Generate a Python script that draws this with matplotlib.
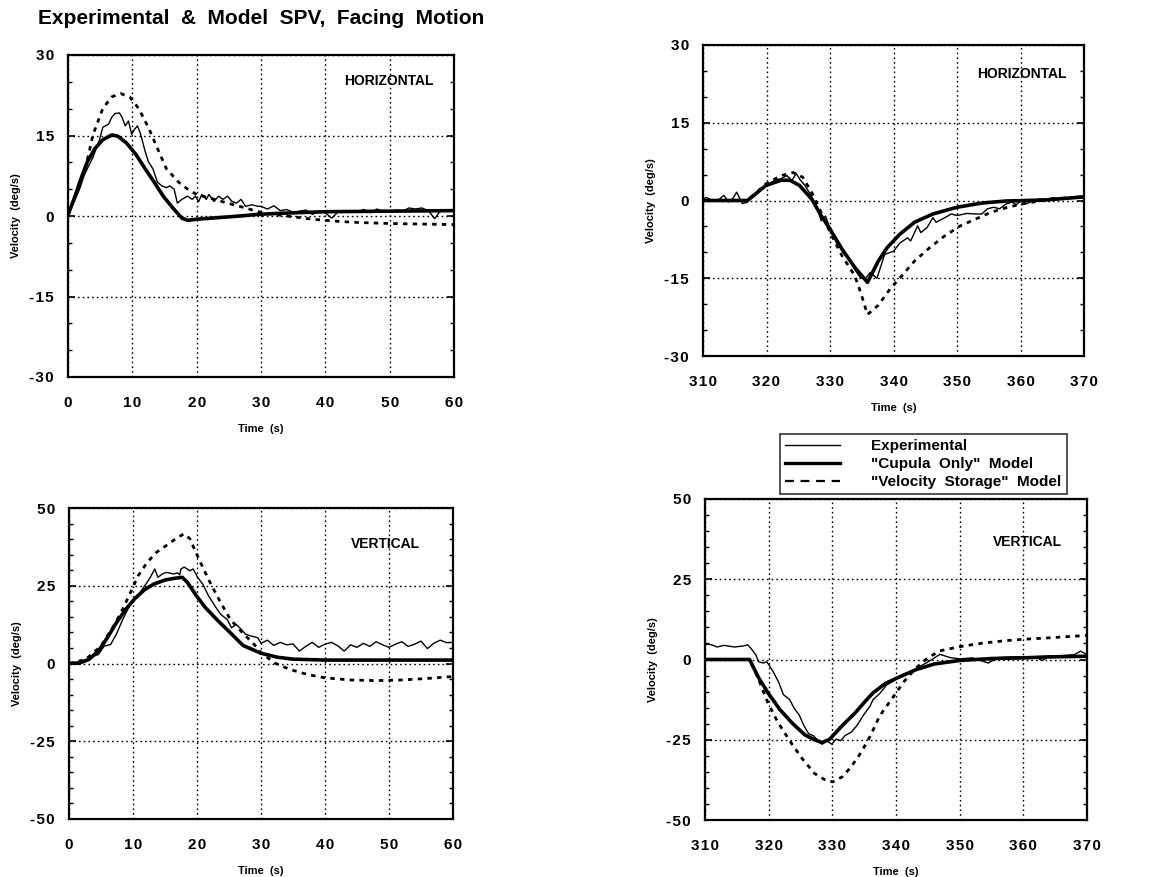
import matplotlib
matplotlib.use("Agg")
import matplotlib.pyplot as plt
from matplotlib.lines import Line2D
from matplotlib.ticker import MultipleLocator, FuncFormatter

plt.rcParams['font.family'] = ['Liberation Sans', 'DejaVu Sans']
plt.rcParams['axes.unicode_minus'] = False

# ---------------- data ----------------
# Top-left: horizontal, onset (0-60 s)
tl_exp_t = [0, 0.85, 1.8, 2.5, 3, 3.9, 4.9, 5.4, 5.8, 6.3, 6.8, 7.3, 8, 8.4, 8.9, 9.4, 9.9, 10.3, 10.8, 11.3,
            12, 12.5, 13.2, 13.9, 14.6, 15.3, 15.8, 16.5, 17, 17.7, 18.6, 19.3, 19.8, 20.3, 20.8, 21.5, 21.9,
            22.7, 23.4, 24.1, 24.8, 25.5, 26.2, 26.9, 27.6, 28.6, 29.5,
            30, 31, 32, 33, 34, 35, 36, 37, 38, 39, 40, 41, 42, 43, 44, 45, 46, 47, 48, 49, 50,
            51, 52, 53, 54, 55, 56, 57, 58, 59, 60]
tl_exp_v = [0.2, 2.4, 5, 7.5, 8.8, 11, 14.2, 16.5, 16.8, 17.1, 18.4, 19.1, 19.2, 18.4, 16.8, 17.7, 15.2, 16.1,
            16.8, 15.2, 12, 10.1, 8.8, 6.3, 5.6, 5.3, 5.6, 5, 2.4, 3.1, 3.7, 3.1, 3.7, 2.7, 4, 3.1, 4, 2.7,
            3.7, 3.1, 3.7, 2.7, 2.4, 3.1, 1.8, 2.1, 1.8,
            1.8, 1.3, 1.9, 1.0, 1.2, 0.7, 0.9, 1.1, 0.3, 0.9, 0.6, -0.4, 0.8, 0.7, 1.0, 0.8, 1.2, 0.6, 1.3,
            0.9, 0.7, 1.1, 0.9, 1.5, 1.3, 1.5, 1.0, -0.5, 1.2, 1.0, 1.2]
tl_cup_t = [0, 1.1, 2, 3, 4.2, 5.4, 6.8, 7.7, 9.1, 10.6, 12, 13.4, 14.8, 16.3, 17.7, 18.6, 20, 23.4, 26.7,
            29.5, 33, 40, 50, 60]
tl_cup_v = [0.2, 3.7, 6.9, 10.1, 12.6, 14.2, 15.1, 14.9, 13.6, 11.4, 8.8, 6.3, 3.7, 1.5, -0.4, -0.8, -0.6,
            -0.3, 0, 0.3, 0.5, 0.8, 0.9, 1.0]
tl_vs_t = [0, 2.75, 3.9, 5.4, 6.8, 8.2, 9.6, 11, 12.5, 13.9, 15.3, 17.2, 18.6, 20, 21.9, 24.8, 27.6, 29.5,
           32, 34, 36, 38, 40, 42, 45, 50, 55, 60]
tl_vs_v = [0.2, 9.1, 15.2, 20, 22.2, 22.8, 22.2, 20, 16.5, 12.6, 8.8, 6.3, 5, 4, 3.4, 2.4, 1.5, 0.8,
           0.3, 0, -0.3, -0.6, -0.8, -1, -1.2, -1.4, -1.5, -1.6]

# Top-right: horizontal, stop (310-370 s)
tr_exp_t = [310, 310.5, 311.5, 312.5, 313.3, 314, 314.7, 315.3, 316.2, 317, 318, 319, 319.9, 321.3, 322.3,
            323.2, 324, 324.7, 325.3, 326, 327, 328, 328.6, 329.3, 330, 331, 332, 333, 334, 334.8, 335.5,
            336.3, 337.4, 338.6, 340, 341, 342.2, 342.7, 343.8, 344.3, 345.3, 346.2, 346.7, 348.1, 349.1,
            350, 351.5, 352.9, 353.9, 354.8, 355.8, 356.7, 357.7, 358.7, 359.3, 360.1, 361, 362, 363, 364,
            365, 366, 367, 368, 369, 370]
tr_exp_v = [0.3, 0.6, 0.0, 0.2, 1.0, -0.3, 0.4, 1.6, -0.6, -0.3, 1.0, 2.0, 2.8, 3.9, 4.2, 4.8, 3.9, 5.2, 4.0,
            3.0, 1.0, -1.5, -3.9, -3.0, -5.5, -8.1, -9.5, -11.3, -13.5, -14.9, -15.2, -13.9, -15.0, -10.4,
            -9.8, -8.2, -7.2, -7.8, -4.9, -6.2, -5.2, -3.3, -4.2, -3.3, -2.6, -2.9, -2.5, -2.6, -2.6, -1.6,
            -1.3, -1.6, -0.7, -0.3, -0.8, -0.1, -0.6, 0.0, 0.3, 0.2, 0.5, 0.4, 0.6, 0.5, 0.8, 0.7]
tr_cup_t = [310, 317, 319.9, 322.3, 323.7, 325.2, 327.1, 328.6, 330, 331.9, 333.9, 335.9, 337.6, 339, 341,
            343.3, 346.2, 350, 353.9, 357.7, 363.9, 370]
tr_cup_v = [0, 0, 2.9, 3.9, 3.9, 2.9, 0.3, -2.9, -5.5, -9.4, -12.9, -15.8, -11.7, -9.1, -6.5, -4.2, -2.6,
            -1.3, -0.5, -0.1, 0.1, 0.7]
tr_vs_t = [310, 317, 319.9, 322.3, 324.2, 325.7, 327.1, 328.6, 330, 331.9, 333.9, 334.9, 335.9, 337.6,
           339.5, 341.4, 343.3, 345.7, 348.1, 350.5, 352.9, 355.3, 357.7, 360.1, 362.5, 365, 370]
tr_vs_v = [0, 0, 3.2, 4.8, 5.4, 4.5, 1.6, -2.3, -6.1, -10.7, -14.5, -18, -22, -20.2, -17, -14.4, -11.7,
           -9.1, -6.8, -4.9, -3.6, -2.3, -1.4, -0.7, -0.2, 0.3, 0.7]

# Bottom-left: vertical, onset (0-60 s)
bl_exp_t = [0, 1.4, 2.6, 3.6, 4.6, 5.5, 6.5, 7.4, 8.4, 9.4, 10.3, 11.3, 12.2, 12.7, 13.4, 13.9, 14.6, 15.3,
            16.3, 17, 17.3, 17.5, 18, 18.9, 19.4, 20.1, 20.9, 21.8, 22.8, 23.7, 24.7, 25.4, 26.1, 26.9,
            27.6, 28.5, 29.5,
            30, 31, 32, 33, 34, 35, 36, 37, 38, 39, 40, 41, 42, 43, 44, 45, 46, 47, 48, 49, 50,
            51, 52, 53, 54, 55, 56, 57, 58, 59, 60]
bl_exp_v = [0, -0.3, 0.8, 2.2, 2.9, 5.6, 6.1, 9.4, 14.2, 18.3, 20.7, 23.4, 26.1, 27.7, 30.4, 27.7, 28.8,
            29.3, 28.8, 29.1, 28.5, 30.4, 31, 29.8, 30.4, 27.7, 25.5, 21.8, 18.5, 15.8, 14.2, 11.5, 12.6,
            11, 9.4, 8.8, 8.3,
            6.5, 7.5, 5.8, 6.8, 6.0, 6.3, 4.0, 5.5, 6.8, 5.2, 6.2, 6.8, 5.7, 4.0, 6.0, 5.2, 6.5, 5.5,
            7.0, 6.0, 5.2, 6.2, 7.0, 5.5, 6.2, 7.2, 4.8, 6.5, 7.5, 6.7, 6.8]
bl_cup_t = [0, 1.7, 3.1, 4.6, 6, 7.4, 8.9, 10.3, 11.8, 13.2, 15.1, 16.5, 17.7, 18.5, 19.9, 21.3, 23.3, 25.2,
            27.2, 30, 32.6, 35, 40, 50, 60]
bl_cup_v = [0, 0.2, 1.3, 4, 8.3, 13.1, 17.5, 20.9, 23.7, 25.5, 26.9, 27.4, 27.7, 26.1, 21.8, 18, 13.7, 9.9,
            5.8, 3.3, 2.0, 1.4, 1.1, 1.1, 1.1]
bl_vs_t = [0, 2.6, 5, 7, 8.4, 9.6, 10.8, 12.2, 13.7, 15.6, 17, 18, 18.9, 19.7, 20.9, 22.3, 23.7, 25.2,
           27.1, 29, 30, 32.1, 34.5, 37.4, 40, 44, 48, 52, 56, 60]
bl_vs_v = [0, 1.3, 5.6, 12.1, 17.5, 22.8, 28.2, 32.5, 35.8, 38.5, 40.6, 41.7, 40.1, 36.3, 30.9, 25, 19.6,
           14.2, 9.9, 6.0, 3.5, 0.2, -1.9, -3.6, -4.6, -5.3, -5.5, -5.3, -4.8, -4.2]

# Bottom-right: vertical, stop (310-370 s)
br_exp_t = [310, 310.2, 311, 311.9, 313, 314.6, 316, 316.7, 317.2, 318, 318.4, 319.2, 319.7, 320.6, 321.6,
            322.3, 323.3, 324, 324.8, 325.5, 326.3, 327, 327.8, 328.4, 329.1, 329.9, 330.6, 331.3, 332, 333,
            333.9, 334.9, 335.9, 336.4, 337.5, 338.5, 340, 341.5, 343, 345, 346.9, 348.5, 350, 352, 354.5,
            356, 358, 360, 362, 363, 364, 366, 368, 369, 370]
br_exp_v = [4.4, 4.8, 4.6, 3.9, 4.4, 3.9, 4.2, 4.6, 3.5, 1.4, -0.7, -1.1, -0.7, -3.4, -7.2, -10.9, -12.5,
            -15.2, -17.3, -20.5, -23.2, -23.7, -25.3, -26.4, -25.3, -26.4, -24.8, -25.3, -23.7, -22.6,
            -20.5, -17.3, -14.6, -12.5, -10.5, -8.0, -6.2, -4.5, -3.0, -0.8, 1.6, 0.6, 0.2, 0.5, -1.1, 0.6,
            0.8, 0.9, 0.6, -0.3, 1.0, 1.2, 1.5, 2.6, 1.5]
br_cup_t = [310, 317, 318.4, 319.9, 321.8, 323.8, 325.7, 327.2, 328.4, 329.6, 331.6, 333.5, 335.4, 336.4,
            338.3, 340, 343.1, 346, 350, 355, 360, 363.6, 370]
br_cup_v = [0, 0, -5.6, -10.4, -15.7, -20, -23.5, -25, -25.9, -24.8, -20.5, -16.8, -12.5, -10.4, -7.5,
            -5.9, -3.2, -1.4, -0.3, 0.3, 0.5, 0.8, 1.0]
br_vs_t = [310, 317, 318.4, 319.9, 321.4, 323.3, 325.2, 327.2, 329.1, 330.1, 331.6, 333, 334.5, 336, 337.4,
           339.3, 341.2, 343.1, 345, 346.9, 350, 353.6, 357.4, 360, 363.6, 370]
br_vs_v = [0, 0, -6.1, -13.6, -19.4, -25.3, -30.7, -35.5, -37.8, -38.1, -36.5, -33.3, -29, -23.7, -17.7,
           -12.4, -7, -2.7, 0.5, 2.7, 4, 5.1, 5.9, 6.3, 6.7, 7.5]

title = "Experimental  &  Model  SPV,  Facing  Motion"
legend_labels = ["Experimental", '"Cupula  Only"  Model', '"Velocity  Storage"  Model']

# ---------------- layout ----------------
W, H = 1153, 877
fig = plt.figure(figsize=(W / 100, H / 100), dpi=100)
fig.patch.set_facecolor('white')


def rect(l, r, t, b):
    return [l / W, 1 - b / H, (r - l) / W, (b - t) / H]


panels = [
    dict(rect=rect(68, 454, 55, 377), xlim=(0, 60), ylim=(-30, 30), ymaj=15, tag="HORIZONTAL",
         tagpos=(0.947, 0.92), exp=(tl_exp_t, tl_exp_v), cup=(tl_cup_t, tl_cup_v), vs=(tl_vs_t, tl_vs_v)),
    dict(rect=rect(703, 1084, 45, 356), xlim=(310, 370), ylim=(-30, 30), ymaj=15, tag="HORIZONTAL",
         tagpos=(0.955, 0.907), exp=(tr_exp_t, tr_exp_v), cup=(tr_cup_t, tr_cup_v), vs=(tr_vs_t, tr_vs_v)),
    dict(rect=rect(69, 453, 508, 819), xlim=(0, 60), ylim=(-50, 50), ymaj=25, tag="VERTICAL",
         tagpos=(0.915, 0.884), exp=(bl_exp_t, bl_exp_v), cup=(bl_cup_t, bl_cup_v), vs=(bl_vs_t, bl_vs_v)),
    dict(rect=rect(705, 1087, 499, 820), xlim=(310, 370), ylim=(-50, 50), ymaj=25, tag="VERTICAL",
         tagpos=(0.935, 0.866), exp=(br_exp_t, br_exp_v), cup=(br_cup_t, br_cup_v), vs=(br_vs_t, br_vs_v)),
]

dot = (0, (1.2, 2.2))
vs_style = (0, (1.6, 1.9))
spaced = FuncFormatter(lambda v, pos: "\u200a".join("%d" % round(v)))

for p in panels:
    ax = fig.add_axes(p['rect'])
    ax.set_xlim(*p['xlim'])
    ax.set_ylim(*p['ylim'])
    ax.xaxis.set_major_locator(MultipleLocator(10))
    ax.yaxis.set_major_locator(MultipleLocator(p['ymaj']))
    ax.yaxis.set_minor_locator(MultipleLocator(5))
    ax.xaxis.set_major_formatter(spaced)
    ax.yaxis.set_major_formatter(spaced)
    ax.grid(True, which='major', color='black', linestyle=dot, linewidth=1.0)
    for s in ax.spines.values():
        s.set_linewidth(1.6)
    ax.tick_params(axis='y', which='major', direction='in', length=5, width=1.2,
                   labelsize=11, pad=10, right=True)
    ax.tick_params(axis='y', which='minor', direction='in', length=3, width=1.0, right=True)
    ax.tick_params(axis='x', which='major', length=0, pad=14, labelsize=11)
    for lab in ax.get_xticklabels() + ax.get_yticklabels():
        lab.set_fontweight('bold')
    ax.plot(*p['exp'], color='black', linewidth=1.0)
    ax.plot(*p['cup'], color='black', linewidth=2.6, solid_joinstyle='round')
    ax.plot(*p['vs'], color='black', linewidth=2.0, linestyle=vs_style)
    ax.set_xlabel("Time  (s)", fontsize=8, fontweight='bold', labelpad=10)
    ax.set_ylabel("Velocity  (deg/s)", fontsize=8, fontweight='bold', labelpad=6)
    ax.text(p['tagpos'][0], p['tagpos'][1], p['tag'], transform=ax.transAxes, ha='right', va='center',
            fontsize=10, fontweight='bold')

fig.text(38 / W, 1 - 18 / H, title, fontsize=15, fontweight='bold', ha='left', va='center')

handles = [Line2D([], [], color='black', linewidth=1.0),
           Line2D([], [], color='black', linewidth=2.4),
           Line2D([], [], color='black', linewidth=1.6, linestyle=(0, (4, 3)))]
leg = fig.legend(handles, legend_labels, loc='upper left',
                 bbox_to_anchor=(780 / W, 1 - 434 / H), bbox_transform=fig.transFigure,
                 frameon=True, fancybox=False, edgecolor='black',
                 handlelength=3.6, borderpad=0.35, labelspacing=0.25, handletextpad=2.0,
                 borderaxespad=0, prop={'weight': 'bold', 'size': 11})
leg.get_frame().set_linewidth(1.2)

fig.savefig("out.png", dpi=100, facecolor='white')
